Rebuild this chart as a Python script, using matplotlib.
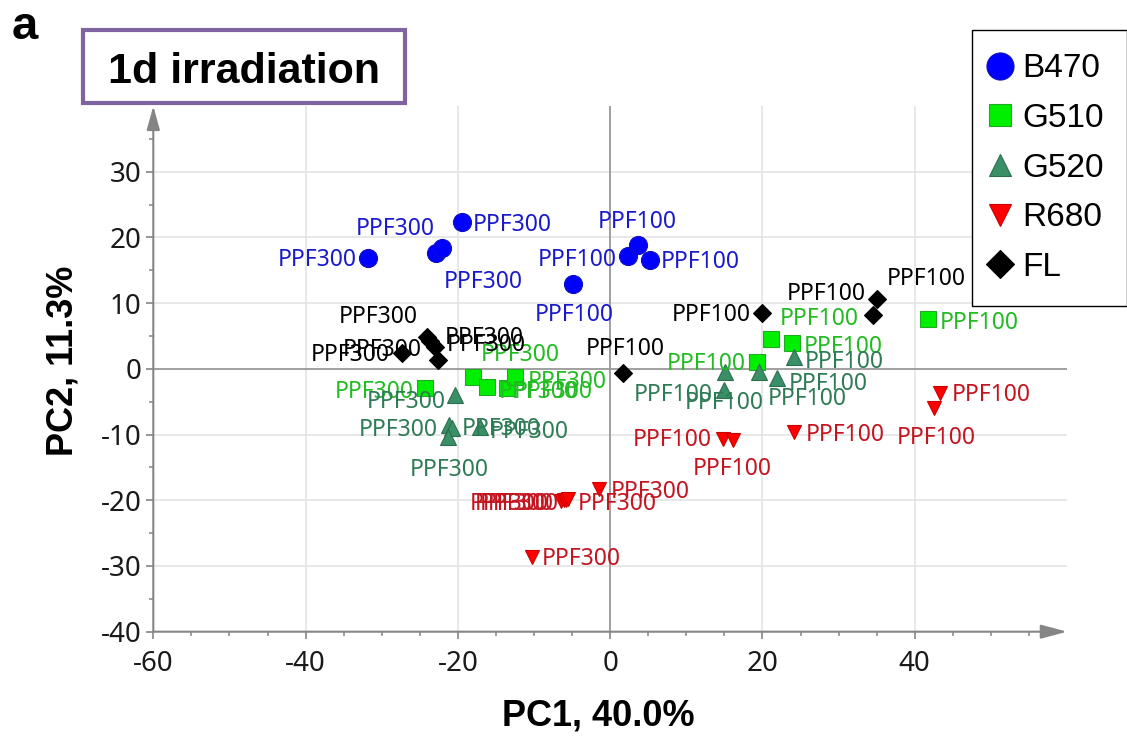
import matplotlib
matplotlib.use('Agg')
import matplotlib.pyplot as plt
from matplotlib.lines import Line2D
from matplotlib.patches import FancyArrowPatch, Rectangle
from matplotlib.ticker import FixedLocator

plt.rcParams['axes.unicode_minus'] = False

# ---------------- data ----------------
series_names = ['B470', 'G510', 'G520', 'R680', 'FL']

b470_x = [-31.8, -22.9, -22.1, -19.5, -4.9, 2.3, 3.6, 5.2]
b470_y = [16.9, 17.6, 18.4, 22.3, 12.9, 17.2, 18.8, 16.6]
b470_lab = ['PPF300', 'PPF300', 'PPF300', 'PPF300', 'PPF100', 'PPF100', 'PPF100', 'PPF100']

g510_x = [-24.3, -18.0, -16.2, -13.6, -12.5, 19.3, 21.1, 23.9, 41.7]
g510_y = [-2.9, -1.2, -2.8, -2.9, -1.2, 1.0, 4.5, 3.9, 7.6]
g510_lab = ['PPF300'] * 5 + ['PPF100'] * 4

g520_x = [-20.4, -21.1, -20.8, -21.3, -17.1, 15.1, 14.9, 19.6, 21.9, 24.1]
g520_y = [-4.0, -8.6, -9.0, -10.4, -8.9, -0.5, -3.2, -0.5, -1.4, 1.8]
g520_lab = ['PPF300'] * 5 + ['PPF100'] * 5

r680_x = [14.8, 16.1, 24.2, 43.3, 42.5, -6.5, -6.1, -5.8, -5.6, -1.4, -10.3]
r680_y = [-10.6, -10.8, -9.6, -3.7, -6.0, -20.1, -20.0, -20.0, -19.8, -18.3, -28.6]
r680_lab = ['PPF100'] * 5 + ['PPF300'] * 6

fl_x = [-27.3, -24.1, -23.6, -23.0, -22.6, 1.7, 19.9, 34.5, 35.1]
fl_y = [2.4, 4.8, 4.2, 3.3, 1.3, -0.6, 8.5, 8.2, 10.6]
fl_lab = ['PPF300'] * 5 + ['PPF100'] * 4

x_label = 'PC1, 40.0%'
y_label = 'PC2, 11.3%'
panel_title = '1d irradiation'
panel_letter = 'a'

# ---------------- styles / label offsets (pixels, y down) ----------------
b470_off = [(-51, 0), (-41, -26), (41, 32), (51, 1), (1, 29), (-50, 2), (0, -25), (51, 0)]
g510_off = [(-51, 2), (47, -24), (51, 3), (47, 2), (52, 3), (-51, 0), (48, -22), (51, 2), (52, 2)]
g520_off = [(-49, 5), (-51, 3), (49, -1), (1, 31), (49, 3), (-52, 21), (1, 11), (48, 25), (51, 4), (51, 3)]
r680_off = [(-51, -1), (0, 27), (51, 1), (51, 0), (2, 28), (-51, 1), (-49, 2), (-47, 2), (50, 3), (51, 1), (50, 0)]
fl_off = [(-52, 0), (-48, -22), (54, -5), (-53, 1), (48, -17), (2, -26), (-50, 0), (-47, -23), (49, -22)]

styles = {
    'B470': dict(marker='o', ms=13, fc='#0000ff', ec='#1010c0', tc='#1a1acc'),
    'G510': dict(marker='s', ms=11, fc='#00ee00', ec='#22aa22', tc='#22bb22'),
    'G520': dict(marker='^', ms=11.5, fc='#3a8f66', ec='#2c6f4e', tc='#2e7b55'),
    'R680': dict(marker='v', ms=10.5, fc='#ff0000', ec='#cc0000', tc='#c41420'),
    'FL': dict(marker='D', ms=9.3, fc='#000000', ec='#000000', tc='#000000'),
}

series = {
    'B470': (b470_x, b470_y, b470_lab, b470_off),
    'G510': (g510_x, g510_y, g510_lab, g510_off),
    'G520': (g520_x, g520_y, g520_lab, g520_off),
    'R680': (r680_x, r680_y, r680_lab, r680_off),
    'FL': (fl_x, fl_y, fl_lab, fl_off),
}

W, H = 1127, 740
fig = plt.figure(figsize=(W / 100, H / 100), dpi=100)
fig.patch.set_facecolor('white')

ax_l, ax_r, ax_b, ax_t = 153.3, 1067, 631.7, 106
ax = fig.add_axes([ax_l / W, 1 - ax_b / H, (ax_r - ax_l) / W, (ax_b - ax_t) / H])
ax.set_xlim(-60, 60)
ax.set_ylim(-40, 40)

x_major = [-60, -40, -20, 0, 20, 40]
y_major = [-40, -30, -20, -10, 0, 10, 20, 30]
ax.xaxis.set_major_locator(FixedLocator(x_major))
ax.yaxis.set_major_locator(FixedLocator(y_major))
ax.xaxis.set_minor_locator(FixedLocator([v for v in range(-55, 60, 5) if v not in x_major]))
ax.yaxis.set_minor_locator(FixedLocator([v for v in range(-35, 40, 5) if v not in y_major]))

for s in ax.spines.values():
    s.set_visible(False)

grid_c = '#e4e4e4'
for v in x_major[1:]:
    ax.axvline(v, color=grid_c, lw=1.2, zorder=0)
for v in y_major[1:]:
    ax.axhline(v, color=grid_c, lw=1.2, zorder=0)
ax.axhline(0, color='#9a9a9a', lw=1.3, zorder=0.5)
ax.axvline(0, color='#9a9a9a', lw=1.3, zorder=0.5)

axis_c = '#858585'
ya = FancyArrowPatch((0, 0), (0, 1), transform=ax.transAxes, clip_on=False,
                     arrowstyle='-|>,head_length=1.45,head_width=0.4', mutation_scale=10,
                     color=axis_c, lw=1.5, shrinkA=0, shrinkB=0, zorder=3)
xa = FancyArrowPatch((0, 0), (1, 0), transform=ax.transAxes, clip_on=False,
                     arrowstyle='-|>,head_length=1.6,head_width=0.43', mutation_scale=10,
                     color=axis_c, lw=1.5, shrinkA=0, shrinkB=0, zorder=3)
ax.add_patch(ya)
ax.add_patch(xa)

ax.tick_params(which='major', length=5, width=1.2, color=axis_c, direction='out',
               labelsize=20, labelcolor='#1a1a1a', pad=3.5)
ax.tick_params(axis='x', which='major', pad=8)
ax.tick_params(which='minor', length=3, width=1.1, color=axis_c, direction='out')
for lbl in ax.get_xticklabels() + ax.get_yticklabels():
    lbl.set_family('Noto Sans')

px2pt = 0.72
cap_px = 16 * 0.5
for name in series_names:
    xs, ys, labs, offs = series[name]
    st = styles[name]
    ax.plot(xs, ys, linestyle='none', marker=st['marker'], ms=st['ms'],
            mfc=st['fc'], mec=st['ec'], mew=0.8, zorder=4)
    for x, y, lab, (dx, dy) in zip(xs, ys, labs, offs):
        ax.annotate(lab, (x, y), xytext=(dx * px2pt, -(dy + cap_px) * px2pt),
                    textcoords='offset points', ha='center', va='baseline',
                    fontsize=16.5, color=st['tc'], family='Noto Sans', zorder=5,
                    annotation_clip=False)

# axis labels
fig.text(598 / W, 1 - 716 / H, x_label, ha='center', va='center', fontsize=26,
         fontweight='bold', family='Liberation Sans')
fig.text(63 / W, 1 - 361 / H, y_label, ha='center', va='center', rotation=90,
         fontsize=26, fontweight='bold', family='Liberation Sans')

# panel letter and title box
fig.text(12 / W, 1 - 39 / H, panel_letter, ha='left', va='baseline', fontsize=34,
         fontweight='bold', family='Liberation Sans')
fig.patches.append(Rectangle((83 / W, 1 - 103 / H), (405 - 83) / W, (103 - 30) / H,
                             transform=fig.transFigure, facecolor='white',
                             edgecolor='#8064a2', lw=3))
fig.text(244 / W, 1 - 83 / H, panel_title, ha='center', va='baseline', fontsize=31,
         fontweight='bold', family='Liberation Sans')

# legend
leg_ms = {'B470': 19.5, 'G510': 16, 'G520': 16.5, 'R680': 16.5, 'FL': 14.5}
handles = [Line2D([], [], linestyle='none', marker=styles[n]['marker'], ms=leg_ms[n],
                  mfc=styles[n]['fc'], mec=styles[n]['ec'], mew=0.8) for n in series_names]
fig.legend(handles, series_names, loc='upper left', bbox_to_anchor=(972 / W, 1 - 30 / H),
           frameon=True, fancybox=False, edgecolor='black', framealpha=1,
           prop={'family': 'Liberation Sans', 'size': 24}, borderpad=0.7,
           labelspacing=0.56, handlelength=0.25, handletextpad=0.55, borderaxespad=0)

fig.savefig('out.png', dpi=100)
